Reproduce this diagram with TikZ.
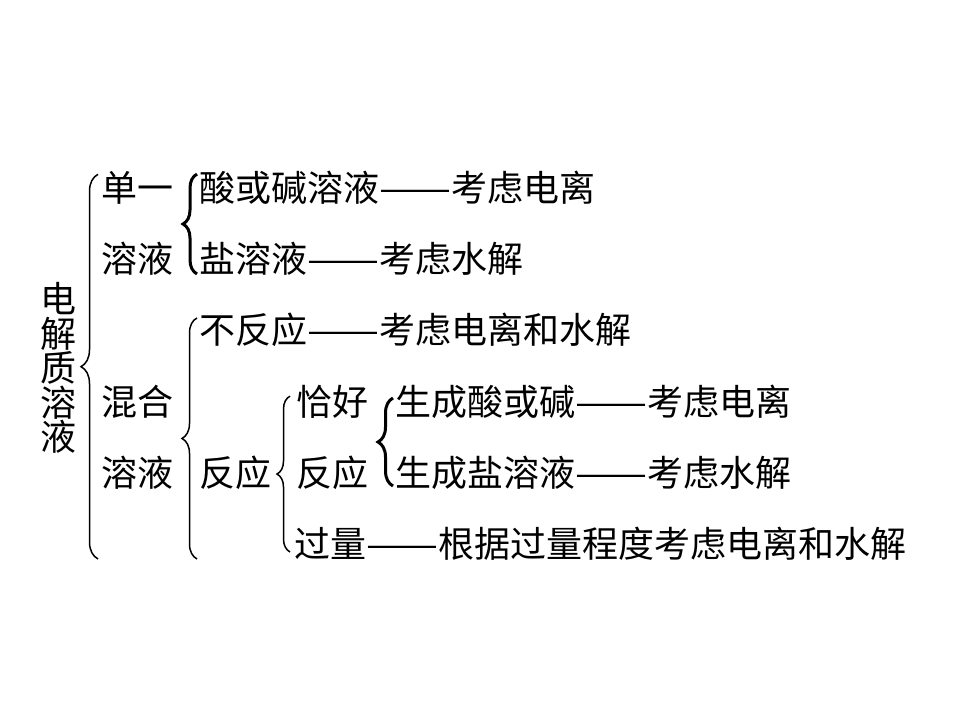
\documentclass[tikz,border=0pt]{standalone}
\usepackage{fontspec}
\newfontfamily\cjk{Noto Sans CJK SC}
\usetikzlibrary{decorations.pathreplacing}
\newcommand{\ldash}{\resizebox{2em}{\height}{——}}

\begin{document}
\begin{tikzpicture}[
  x=1pt, y=-1pt,
  txt/.style={anchor=west, inner sep=0pt, font=\cjk\fontsize{36}{36}\selectfont},
  brc/.style={decorate, decoration={brace, amplitude=#1}, line width=1.5pt},
  brc/.default=15pt,
  brcb/.style={brc=#1, line width=3pt},
  brcb/.default=15pt
]
\useasboundingbox (0,0) rectangle (960,720);

% left column
\node[txt, anchor=center, align=center, font=\cjk\fontsize{36}{34.5}\selectfont] (dianjie) at (58,368) {电\\解\\质\\溶\\液};
\node[txt] (danyi) at (101,188) {单一};
\node[txt] (rongye) at (101,259) {溶液};
\node[txt] (hunhe) at (101,402) {混合};
\node[txt] (rongyeb) at (101,473) {溶液};

% second level
\node[txt] (suanjian) at (199,188) {酸或碱溶液\ldash 考虑电离};
\node[txt] (yan) at (199,259) {盐溶液\ldash 考虑水解};
\node[txt] (bufan) at (199,330) {不反应\ldash 考虑电离和水解};
\node[txt] (fanying) at (199,473) {反应};

% reaction branch
\node[txt] (qiahao) at (296,402) {恰好};
\node[txt] (fanyingb) at (296,473) {反应};
\node[txt] (guoliang) at (294,544) {过量\ldash 根据过量程度考虑电离和水解};
\node[txt] (shengsuan) at (395,402) {生成酸或碱\ldash 考虑电离};
\node[txt] (shengyan) at (395,473) {生成盐溶液\ldash 考虑水解};

% brace ends
\coordinate (b1) at (guoliang.south -| danyi.west);
\coordinate (b3) at (guoliang.south -| bufan.west);
\coordinate (b4) at (guoliang.south -| qiahao.west);

\draw[brc=17pt] ([xshift=-3pt,yshift=2pt]b1) -- ([xshift=-3pt,yshift=-3pt]danyi.north west);
\draw[brcb=14pt] ([xshift=-2pt,yshift=2pt]yan.south west) -- ([xshift=-2pt,yshift=-3pt]suanjian.north west);
\draw[brc=15pt] ([xshift=-2pt,yshift=2pt]b3) -- ([xshift=-2pt,yshift=-5pt]bufan.north west);
\draw[brc=13pt] ([xshift=-6pt,yshift=9pt]b4) -- ([xshift=-6pt,yshift=-11pt]qiahao.north west);
\draw[brcb=15pt] ([xshift=-2pt,yshift=4pt]shengyan.south west) -- ([xshift=-2pt,yshift=-13pt]shengsuan.north west);
\end{tikzpicture}
\end{document}
